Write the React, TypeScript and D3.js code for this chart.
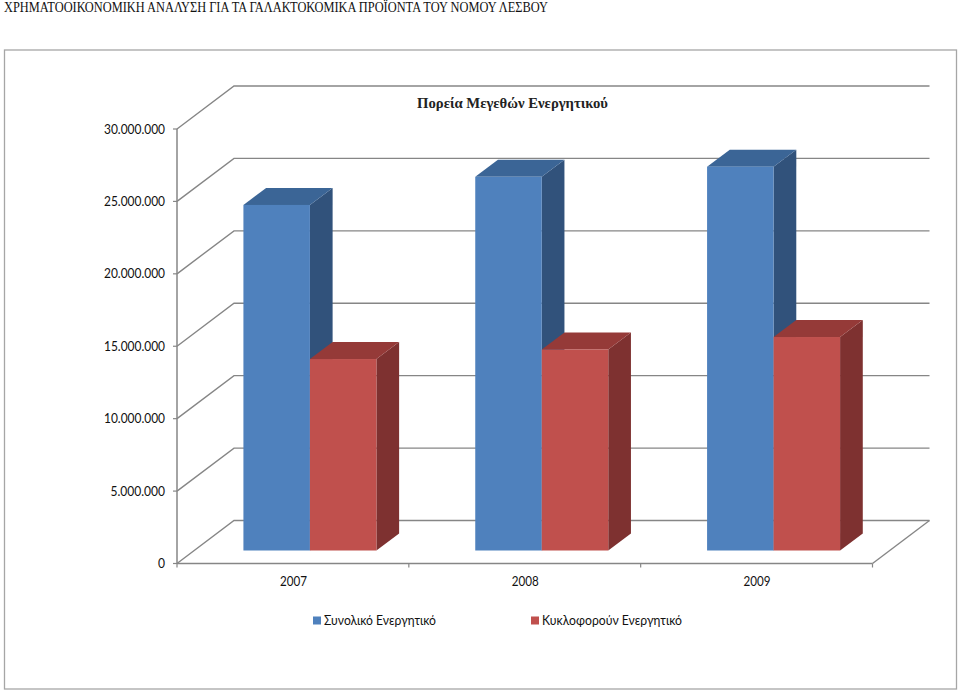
import React from "react";
import * as d3 from "d3";

const docTitle = "ΧΡΗΜΑΤΟΟΙΚΟΝΟΜΙΚΗ ΑΝΑΛΥΣΗ ΓΙΑ ΤΑ ΓΑΛΑΚΤΟΚΟΜΙΚΑ ΠΡΟΪΟΝΤΑ ΤΟΥ ΝΟΜΟΥ ΛΕΣΒΟΥ";
const chartTitle = "Πορεία Μεγεθών Ενεργητικού";
const years = ["2007", "2008", "2009"];
const seriesNames = ["Συνολικό Ενεργητικό", "Κυκλοφορούν Ενεργητικό"];
const totalAssets = [23860000, 25800000, 26500000];
const currentAssets = [13220000, 13880000, 14740000];
const yTicks = [0, 5000000, 10000000, 15000000, 20000000, 25000000, 30000000];
const yTickLabels = ["0", "5.000.000", "10.000.000", "15.000.000", "20.000.000", "25.000.000", "30.000.000"];

const seriesValues = [totalAssets, currentAssets];
const palette = [
  { front: "#4F81BD", top: "#3B6596", side: "#31527B" },
  { front: "#C0504D", top: "#953A38", side: "#7E3130" },
];
const gridColor = "#868686";
const sansFont = "Lato, Carlito, 'Open Sans', sans-serif";
const serifFont = "'Liberation Serif', serif";
const labelColor = "#111";

const x0 = 177;
const x1 = 872.5;
const depthX = 57;
const depthY = 43;
const barOffX = 17;
const barOffY = 13;
const barDepthX = 22.7;
const barDepthY = 17;

const y = d3.scaleLinear().domain([0, 30000000]).range([563.5, 129]);
const xBand = d3.scaleBand<string>().domain(years).range([x0, x1]);
const barWidth = 66.5;
const barLeft = (yearIndex: number, seriesIndex: number) =>
  (xBand(years[yearIndex]) as number) + xBand.bandwidth() / 2 + barOffX - barWidth + seriesIndex * barWidth;

const poly = (pts: [number, number][]) => pts.map((p) => p.join(",")).join(" ");

// horizontal extent of a tick label: digits and dots of the reference's narrower face
const tickLabelWidth = (s: string) => (s.length === 10 ? 61 : s.length === 9 ? 54.5 : 7);

export default function App() {
  const line = d3.line();
  return (
    <svg width={959} height={690} style={{ position: "absolute", left: 0, top: 0, display: "block" }}>
      <rect width={959} height={690} fill="#fff" />
      <text x={4} y={11.5} fontFamily={serifFont} fontSize={14.3} fill="#111" textLength={544} lengthAdjust="spacingAndGlyphs">
        {docTitle}
      </text>
      <rect x={4.5} y={50} width={952} height={639} fill="#fff" stroke="#A6A6A6" strokeWidth={1.3} />

      {/* back wall and side wall gridlines */}
      {yTicks.map((t) => (
        <path
          key={t}
          d={line([
            [x0, y(t)],
            [x0 + depthX, y(t) - depthY],
            [x1 + depthX, y(t) - depthY],
          ]) as string}
          fill="none"
          stroke={gridColor}
          strokeWidth={1.4}
        />
      ))}
      {/* floor */}
      <path
        d={line([
          [x1, y(0)],
          [x1 + depthX, y(0) - depthY],
        ]) as string}
        stroke={gridColor}
        strokeWidth={1.4}
        fill="none"
      />
      {/* axes */}
      <line x1={x0} x2={x0} y1={y(30000000)} y2={y(0)} stroke={gridColor} strokeWidth={1.5} />
      <line x1={x0} x2={x1} y1={y(0)} y2={y(0)} stroke={gridColor} strokeWidth={1.5} />
      {yTicks.map((t) => (
        <line key={t} x1={x0 - 4} x2={x0} y1={y(t)} y2={y(t)} stroke={gridColor} strokeWidth={1.2} />
      ))}
      {[...years.map((yr) => xBand(yr) as number), x1].map((v) => (
        <line key={v} x1={v} x2={v} y1={y(0)} y2={y(0) + 4} stroke={gridColor} strokeWidth={1.2} />
      ))}

      {/* bars */}
      {years.map((yr, i) =>
        seriesValues.map((vals, s) => {
          const left = barLeft(i, s);
          const right = left + barWidth;
          const bottom = y(0) - barOffY;
          const top = y(vals[i]) - barOffY;
          const c = palette[s];
          return (
            <g key={yr + s}>
              <polygon
                fill={c.side}
                points={poly([
                  [right, top],
                  [right + barDepthX, top - barDepthY],
                  [right + barDepthX, bottom - barDepthY],
                  [right, bottom],
                ])}
              />
              <polygon
                fill={c.top}
                points={poly([
                  [left, top],
                  [left + barDepthX, top - barDepthY],
                  [right + barDepthX, top - barDepthY],
                  [right, top],
                ])}
              />
              <rect x={left} y={top} width={barWidth} height={bottom - top} fill={c.front} />
            </g>
          );
        })
      )}

      {/* y tick labels */}
      {yTicks.map((t, i) => (
        <text
          key={t}
          x={165}
          y={y(t) + 4.5}
          textAnchor="end"
          fontFamily={sansFont}
          fontSize={13}
          fill={labelColor}
          textLength={tickLabelWidth(yTickLabels[i])}
          lengthAdjust="spacingAndGlyphs"
        >
          {yTickLabels[i]}
        </text>
      ))}
      {/* x labels */}
      {years.map((yr) => (
        <text
          key={yr}
          x={(xBand(yr) as number) + xBand.bandwidth() / 2 + 0.5}
          y={586}
          textAnchor="middle"
          fontFamily={sansFont}
          fontSize={13}
          fill={labelColor}
          textLength={27}
          lengthAdjust="spacingAndGlyphs"
        >
          {yr}
        </text>
      ))}

      <text x={512.5} y={108} textAnchor="middle" fontFamily={serifFont} fontWeight="bold" fontSize={14.7} fill="#222">
        {chartTitle}
      </text>

      {/* legend */}
      {seriesNames.map((n, s) => {
        const lx = s === 0 ? 313 : 531;
        return (
          <g key={n}>
            <rect x={lx} y={616.5} width={8} height={8} fill={palette[s].front} />
            <text
              x={lx + 11}
              y={625}
              fontFamily={sansFont}
              fontSize={13.5}
              fill={labelColor}
              textLength={s === 0 ? 112 : 140}
              lengthAdjust="spacingAndGlyphs"
            >
              {n}
            </text>
          </g>
        );
      })}
    </svg>
  );
}
